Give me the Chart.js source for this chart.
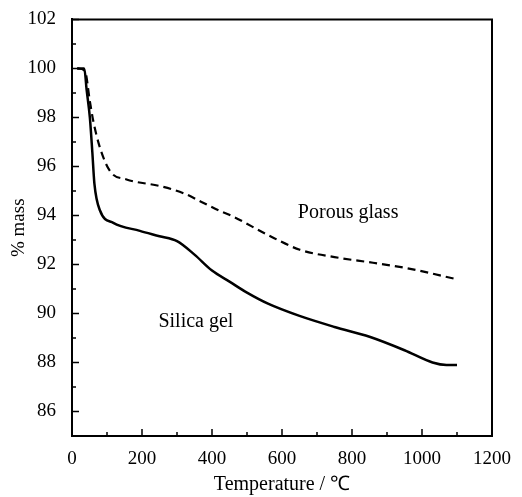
<!DOCTYPE html>
<html>
<head>
<meta charset="utf-8">
<script src="https://cdn.jsdelivr.net/npm/chart.js@4.4.0/dist/chart.umd.min.js"></script>
<style>
  html, body { margin: 0; padding: 0; background: #fff; }
  #wrap { width: 522px; height: 497px; }
</style>
</head>
<body>
<div id="wrap"><canvas id="tga" width="522" height="497"></canvas></div>
<script>
// values
const silicaTemp = [15, 35, 42, 51, 58, 64, 80, 118, 194, 250, 300, 350, 400, 450, 500, 560, 650, 750, 850, 950, 1030, 1070, 1100];
const silicaMass = [100, 100, 99.1, 98.0, 96.6, 95.3, 94.2, 93.7, 93.37, 93.15, 92.95, 92.4, 91.75, 91.3, 90.85, 90.4, 89.9, 89.45, 89.05, 88.5, 88.0, 87.9, 87.9];

const glassTemp = [15, 37, 51, 61, 80, 109, 156, 251, 320, 370, 423, 461, 556, 651, 750, 860, 956, 1099];
const glassMass = [100, 99.9, 98.66, 97.84, 96.76, 95.8, 95.47, 95.2, 94.9, 94.55, 94.18, 93.95, 93.23, 92.6, 92.3, 92.07, 91.85, 91.4];

const xTicks = [0, 200, 400, 600, 800, 1000, 1200];
const yTicks = [86, 88, 90, 92, 94, 96, 98, 100, 102];

const labelTexts = ['Porous glass', 'Silica gel'];
const labelX = [789, 354];
const labelY = [94.1, 89.66];

const serif = '"Liberation Serif", "Times New Roman", serif';

function toPoints(xs, ys) {
    return xs.map(function(x, i) { return { x: x, y: ys[i] }; });
}

// inward ticks, box and curve labels
const frame = {
    id: 'frame',
    afterDraw: function(chart) {
        const ctx = chart.ctx;
        const a = chart.chartArea;
        const xs = chart.scales.x;
        const ys = chart.scales.y;
        ctx.save();
        ctx.strokeStyle = '#000';
        ctx.lineWidth = 2;
        ctx.beginPath();
        ctx.moveTo(a.left, a.top);
        ctx.lineTo(a.right, a.top);
        ctx.lineTo(a.right, a.bottom);
        ctx.stroke();

        ctx.lineWidth = 1.5;
        ctx.beginPath();
        for (let v = 0; v <= 1200; v += 100) {
            const px = xs.getPixelForValue(v);
            const len = (v % 200 === 0) ? 7 : 4;
            ctx.moveTo(px, a.bottom);
            ctx.lineTo(px, a.bottom - len);
        }
        for (let v = 86; v <= 102; v += 1) {
            const py = ys.getPixelForValue(v);
            const len = (v % 2 === 0) ? 7 : 4;
            ctx.moveTo(a.left, py);
            ctx.lineTo(a.left + len, py);
        }
        ctx.stroke();

        ctx.fillStyle = '#000';
        ctx.font = '20px ' + serif;
        ctx.textAlign = 'center';
        ctx.textBaseline = 'middle';
        labelTexts.forEach(function(t, i) {
            ctx.fillText(t, xs.getPixelForValue(labelX[i]), ys.getPixelForValue(labelY[i]));
        });
        ctx.restore();
    }
};

new Chart(document.getElementById('tga'), {
    type: 'line',
    data: {
        datasets: [{
            label: 'Silica gel',
            data: toPoints(silicaTemp, silicaMass),
            borderColor: '#000',
            borderWidth: 2.5,
            pointRadius: 0,
            cubicInterpolationMode: 'monotone',
            fill: false
        }, {
            label: 'Porous glass',
            data: toPoints(glassTemp, glassMass),
            borderColor: '#000',
            borderWidth: 2.2,
            borderDash: [8, 5],
            pointRadius: 0,
            cubicInterpolationMode: 'monotone',
            fill: false
        }]
    },
    options: {
        responsive: false,
        animation: false,
        layout: { padding: { top: 18, right: 30, left: 0, bottom: 0 } },
        plugins: { legend: { display: false }, tooltip: { enabled: false } },
        scales: {
            x: {
                type: 'linear',
                min: 0,
                max: 1200,
                afterBuildTicks: function(s) { s.ticks = xTicks.map(function(v) { return { value: v }; }); },
                afterFit: function(s) { s.height = 61; },
                grid: { display: false },
                border: { display: true, color: '#000', width: 2 },
                ticks: {
                    color: '#000', padding: 4, maxRotation: 0,
                    font: { family: serif, size: 19 },
                    callback: function(v) { return String(v); }
                },
                title: {
                    display: true,
                    text: 'Temperature / ℃',
                    color: '#000',
                    padding: { top: 0, bottom: 0 },
                    font: { family: serif, size: 20 }
                }
            },
            y: {
                type: 'linear',
                min: 85,
                max: 102,
                afterBuildTicks: function(s) { s.ticks = yTicks.map(function(v) { return { value: v }; }); },
                afterFit: function(s) { s.width = 72; },
                grid: { display: false },
                border: { display: true, color: '#000', width: 2 },
                ticks: { color: '#000', padding: 8, font: { family: serif, size: 19 } },
                title: {
                    display: true,
                    text: '% mass',
                    color: '#000',
                    padding: { top: 8, bottom: 0 },
                    font: { family: serif, size: 19 }
                }
            }
        }
    },
    plugins: [frame]
});
</script>
</body>
</html>
